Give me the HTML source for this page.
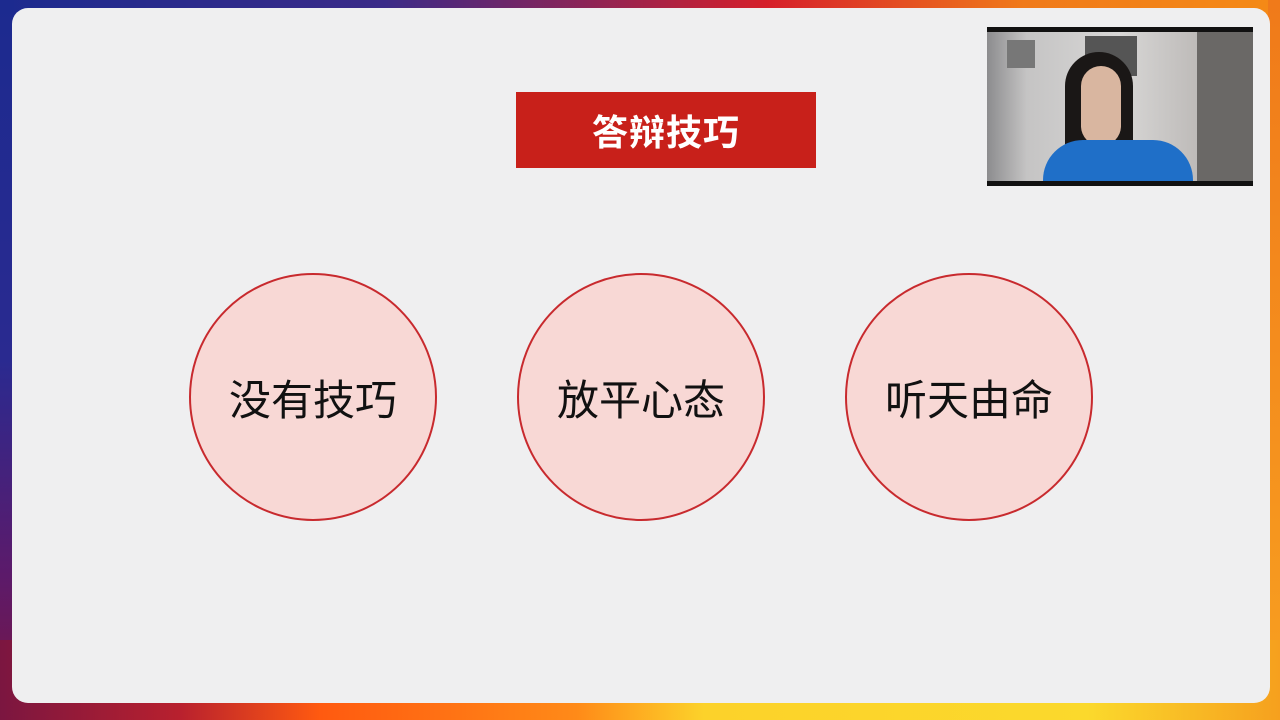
<!DOCTYPE html>
<html><head><meta charset="utf-8"><style>
body{margin:0;width:1280px;height:720px;overflow:hidden;position:relative;font-family:"Liberation Sans","Noto Sans CJK SC",sans-serif;
background:linear-gradient(90deg,#1c2a8f 0%,#3a2a88 30%,#d61f2a 60%,#f07a1a 80%,#f58a16 100%);}
.bot{position:absolute;left:0;top:640px;width:1280px;height:80px;background:linear-gradient(90deg,#7b1640 0%,#b8202e 14%,#ff5a10 25%,#ff8a18 45%,#fcd22a 55%,#fbd92c 85%,#f6a01e 100%);}
.left{position:absolute;left:0;top:0;width:14px;height:720px;background:linear-gradient(180deg,#1c2a8f 0%,#2a2a90 50%,#5c1a6a 80%,#7b1640 100%);}
.right{position:absolute;right:0;top:0;width:12px;height:720px;background:linear-gradient(180deg,#f07a1a,#f8a020);}
.card{position:absolute;left:12px;top:8px;width:1258px;height:695px;background:#efeff0;border-radius:16px;}
.title{position:absolute;left:516px;top:92px;width:300px;height:76px;background:#c8201a;color:#fff;font-size:36px;font-weight:bold;display:flex;align-items:center;justify-content:center;letter-spacing:1px;}
.circ{position:absolute;width:244px;height:244px;border-radius:50%;background:#f8d8d5;border:2px solid #c82a2e;top:273px;display:flex;align-items:center;justify-content:center;font-size:42px;color:#111;}
.cam{position:absolute;left:987px;top:27px;width:266px;height:159px;background:#111;}
.camin{position:absolute;left:0;top:5px;width:266px;height:149px;background:linear-gradient(90deg,#8c8c8e 0%,#c5c4c4 15%,#d8d7d6 50%,#bdbab8 80%,#8a8886 100%);overflow:hidden;}
</style></head><body>
<div class="left"></div>
<div class="right"></div>
<div class="bot"></div>
<div class="card"></div>
<div class="title">答辩技巧</div>
<div class="circ" style="left:189px">没有技巧</div>
<div class="circ" style="left:517px">放平心态</div>
<div class="circ" style="left:845px">听天由命</div>
<div class="cam">
<div class="camin">
<div style="position:absolute;left:98px;top:4px;width:52px;height:40px;background:#555"></div>
<div style="position:absolute;left:20px;top:8px;width:28px;height:28px;background:#777"></div>
<div style="position:absolute;left:210px;top:0;width:56px;height:149px;background:#6a6866"></div>
<div style="position:absolute;left:78px;top:20px;width:68px;height:140px;border-radius:34px 34px 0 0;background:#1a1716"></div>
<div style="position:absolute;left:94px;top:34px;width:40px;height:80px;border-radius:20px;background:#d9b6a0"></div>
<div style="position:absolute;left:56px;top:108px;width:150px;height:60px;border-radius:40px 40px 0 0;background:#1f6fc8"></div>
</div></div>
</body></html>
